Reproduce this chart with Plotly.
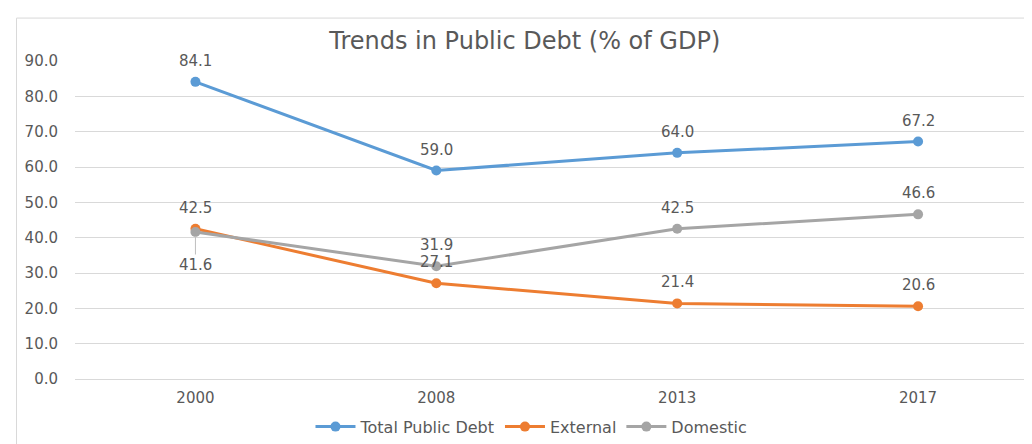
import plotly.graph_objects as go

years = ["2000", "2008", "2013", "2017"]
total = [84.1, 59.0, 64.0, 67.2]
external = [42.5, 27.1, 21.4, 20.6]
domestic = [41.6, 31.9, 42.5, 46.6]
y_ticks = [0, 10, 20, 30, 40, 50, 60, 70, 80, 90]

series = [
    ("Total Public Debt", total, "#5B9BD5"),
    ("External", external, "#ED7D31"),
    ("Domestic", domestic, "#A5A5A5"),
]

FONT = "DejaVu Sans"
TXT = "#595959"

fig = go.Figure()
for name, vals, col in series:
    fig.add_trace(go.Scatter(
        x=years, y=vals, name=name, mode="lines+markers",
        line=dict(color=col, width=3), marker=dict(color=col, size=10),
    ))

annotations = []
for name, vals, col in series:
    for i, v in enumerate(vals):
        if name == "Domestic" and i == 0:
            annotations.append(dict(
                x=i, y=v, xref="x", yref="y", text=f"{v:.1f}",
                showarrow=True, arrowhead=0, arrowwidth=1, arrowcolor="#BFBFBF",
                ax=0, ay=33, standoff=4,
                font=dict(family=FONT, size=15, color=TXT)))
        else:
            annotations.append(dict(
                x=i, y=v, xref="x", yref="y", text=f"{v:.1f}",
                showarrow=False, yshift=21,
                font=dict(family=FONT, size=15, color=TXT)))

fig.update_layout(
    width=1024, height=436,
    margin=dict(l=66.5, r=0, t=53, b=65),
    paper_bgcolor="white", plot_bgcolor="white",
    font=dict(family=FONT, color=TXT, size=15),
    title=dict(text="Trends in Public Debt (% of GDP)", x=0.47, xref="paper",
               xanchor="center", y=0.926, yanchor="middle",
               font=dict(family=FONT, size=24, color=TXT)),
    xaxis=dict(type="category", range=[-0.5, 3.473], showgrid=False,
               showline=False, ticks="", tickfont=dict(size=15, color=TXT),
               ticklabelstandoff=8),
    yaxis=dict(range=[0, 90], tickvals=y_ticks, tickformat=".1f",
               gridcolor="#D9D9D9", gridwidth=1, zeroline=True,
               zerolinecolor="#D9D9D9", zerolinewidth=1, showline=False,
               tickfont=dict(size=15, color=TXT), ticklabelstandoff=16),
    legend=dict(orientation="h", x=0.477, xanchor="center", y=-0.15,
                yanchor="middle", font=dict(family=FONT, size=16, color=TXT),
                itemwidth=40, tracegroupgap=0),
    annotations=annotations,
    shapes=[dict(type="rect", xref="paper", yref="paper",
                 x0=-0.0611, x1=1.05, y0=-0.25, y1=1.135,
                 line=dict(color="#D9D9D9", width=1), layer="below")],
)

fig.write_html("out.html")
